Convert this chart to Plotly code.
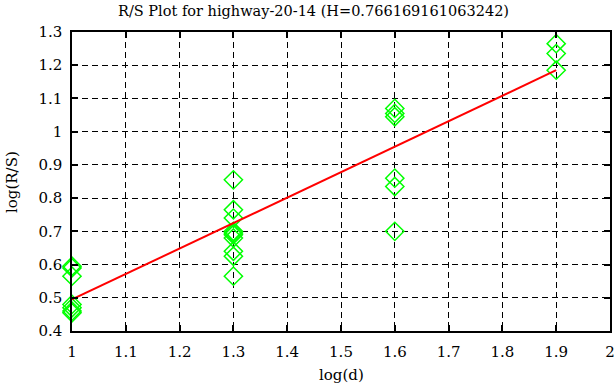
import plotly.graph_objects as go

title_text = "R/S Plot for highway-20-14 (H=0.766169161063242)"
x_title = "log(d)"
y_title = "log(R/S)"
log_d = [1.0]*7 + [1.3]*10 + [1.6]*6 + [1.9]*3
log_rs = [0.595, 0.59, 0.565, 0.48, 0.47, 0.46, 0.455,
          0.855, 0.765, 0.74, 0.70, 0.695, 0.69, 0.68, 0.64, 0.625, 0.565,
          1.07, 1.055, 1.045, 0.86, 0.835, 0.70,
          1.265, 1.235, 1.185]
fit_x = [1.0, 1.9]
fit_y = [0.495, 1.185]
x_ticks = [1, 1.1, 1.2, 1.3, 1.4, 1.5, 1.6, 1.7, 1.8, 1.9, 2]
y_ticks = [0.4, 0.5, 0.6, 0.7, 0.8, 0.9, 1.0, 1.1, 1.2, 1.3]

font = dict(family="DejaVu Serif, Liberation Serif, serif", size=15, color="black")
title_font = dict(family="DejaVu Serif, Liberation Serif, serif", size=14.5, color="black")

fig = go.Figure()
fig.add_trace(go.Scatter(x=log_d, y=log_rs, mode="markers",
                         marker=dict(symbol="diamond-open", size=14, color="#00ff00",
                                     line=dict(width=1.5, color="#00ff00")),
                         showlegend=False, cliponaxis=False))
fig.add_trace(go.Scatter(x=fit_x, y=fit_y, mode="lines",
                         line=dict(color="#ff0000", width=2), showlegend=False))

axis_common = dict(showline=True, linecolor="black", linewidth=1.5, mirror="ticks",
                   ticks="inside", ticklen=6, tickcolor="black", tickwidth=1.5,
                   showgrid=True, gridcolor="black", gridwidth=1, griddash="6px,4px",
                   zeroline=False, tickfont=font, automargin=False)

fig.update_layout(
    width=616, height=387,
    margin=dict(l=72, r=6, t=32, b=56),
    plot_bgcolor="white", paper_bgcolor="white",
    font=font,
    xaxis=dict(range=[1, 2], tickvals=x_ticks, ticktext=[("%g" % v) for v in x_ticks],
               ticklabelstandoff=6, **axis_common),
    yaxis=dict(range=[0.4, 1.3], tickvals=y_ticks, ticktext=[("%g" % v) for v in y_ticks],
               ticklabelstandoff=5, **axis_common),
    annotations=[
        dict(text=title_text, xref="paper", yref="paper", x=(313-72)/538, y=1+(32-11)/299,
             xanchor="center", yanchor="middle", showarrow=False, font=title_font),
        dict(text=x_title, xref="paper", yref="paper", x=0.5, y=-(375-331)/299,
             xanchor="center", yanchor="middle", showarrow=False, font=font),
        dict(text=y_title, xref="paper", yref="paper", x=-(72-12)/538, y=(331-182)/299,
             xanchor="center", yanchor="middle", showarrow=False, font=font, textangle=-90),
    ],
)

fig.write_html("out.html", config={"displayModeBar": False},
               post_script="document.body.style.margin='0px';")
